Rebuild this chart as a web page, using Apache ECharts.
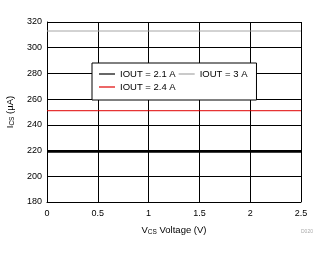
<!DOCTYPE html>
<html><head><meta charset="utf-8">
<script src="https://cdn.jsdelivr.net/npm/echarts@6/dist/echarts.min.js"></script>
<style>html,body{margin:0;padding:0;background:#fff}#c{width:329px;height:254px}</style>
</head><body><div id="c"></div>
<script>
var xValues = [0, 0.5, 1, 1.5, 2, 2.5];
var iout21 = [219, 219, 219, 219, 219, 219];
var iout24 = [251, 251, 251, 251, 251, 251];
var iout3 = [313, 313, 313, 313, 313, 313];
var seriesNames = ['IOUT = 2.1 A', 'IOUT = 2.4 A', 'IOUT = 3 A'];
var seriesColors = ['#000000', '#e00000', '#a6a6a6'];
var xTicks = ['0', '0.5', '1', '1.5', '2', '2.5'];
var yTicks = ['180', '200', '220', '240', '260', '280', '300', '320'];

function pairs(ys){ return xValues.map(function(x,i){return [x, ys[i]];}); }
var font = 'Liberation Sans, Arial, sans-serif';
var nameRich = {
  n:{fontFamily:font, fontSize:9.5, color:'#000', lineHeight:11},
  s:{fontFamily:font, fontSize:6.5, color:'#000', lineHeight:7, verticalAlign:'bottom', padding:[6,0,0,0]}
};
var legendOrder = [0, 2, 1];
var chart = echarts.init(document.getElementById('c'), null, {renderer:'canvas'});
chart.setOption({
  animation:false,
  grid:{left:47, right:28, top:22, bottom:52, containLabel:false, outerBoundsMode:'none'},
  xAxis:{type:'value', min:0, max:2.5, interval:0.5,
    axisLine:{show:true, lineStyle:{color:'#000', width:1}},
    axisTick:{show:false},
    splitLine:{show:true, lineStyle:{color:'#000', width:1}},
    axisLabel:{color:'#000', fontFamily:font, fontSize:9, margin:7,
      formatter:function(v){return xTicks[Math.round(v/0.5)];}},
    name:'{n|V}{s|CS}{n| Voltage (V)}', nameLocation:'middle', nameGap:19,
    nameTextStyle:{rich:nameRich}
  },
  yAxis:{type:'value', min:180, max:320, interval:20,
    axisLine:{show:true, lineStyle:{color:'#000', width:1}},
    axisTick:{show:false},
    splitLine:{show:true, lineStyle:{color:'#000', width:1}},
    axisLabel:{color:'#000', fontFamily:font, fontSize:9, margin:5,
      formatter:function(v){return yTicks[Math.round((v-180)/20)];}},
    name:'{n|I}{s|CS}{n| (µA)}', nameLocation:'middle', nameGap:24, nameRotate:90,
    nameTextStyle:{rich:nameRich}
  },
  legend:{
    data:legendOrder.map(function(i){return {name:seriesNames[i], itemStyle:{color:seriesColors[i], borderWidth:0}};}),
    left:92, top:63, width:160, orient:'horizontal',
    backgroundColor:'#fff', borderColor:'#000', borderWidth:1,
    padding:[6,9,8,7], itemGap:3, itemWidth:16, itemHeight:1.2, itemTextGap:7,
    icon:'rect',
    textStyle:{fontFamily:font, fontSize:9.5, color:'#000', lineHeight:10}
  },
  series:[
    {name:seriesNames[0], type:'line', data:pairs(iout21), symbol:'none', lineStyle:{color:seriesColors[0], width:2}, itemStyle:{color:seriesColors[0]}, z:3},
    {name:seriesNames[1], type:'line', data:pairs(iout24), symbol:'none', lineStyle:{color:seriesColors[1], width:1}, itemStyle:{color:seriesColors[1]}, z:3},
    {name:seriesNames[2], type:'line', data:pairs(iout3), symbol:'none', lineStyle:{color:seriesColors[2], width:1}, itemStyle:{color:seriesColors[2]}, z:3}
  ],
  graphic:[
    {type:'text', left:301, top:229, style:{text:'D020', fontFamily:font, fontSize:5, fill:'#aaa'}}
  ]
});
</script></body></html>
